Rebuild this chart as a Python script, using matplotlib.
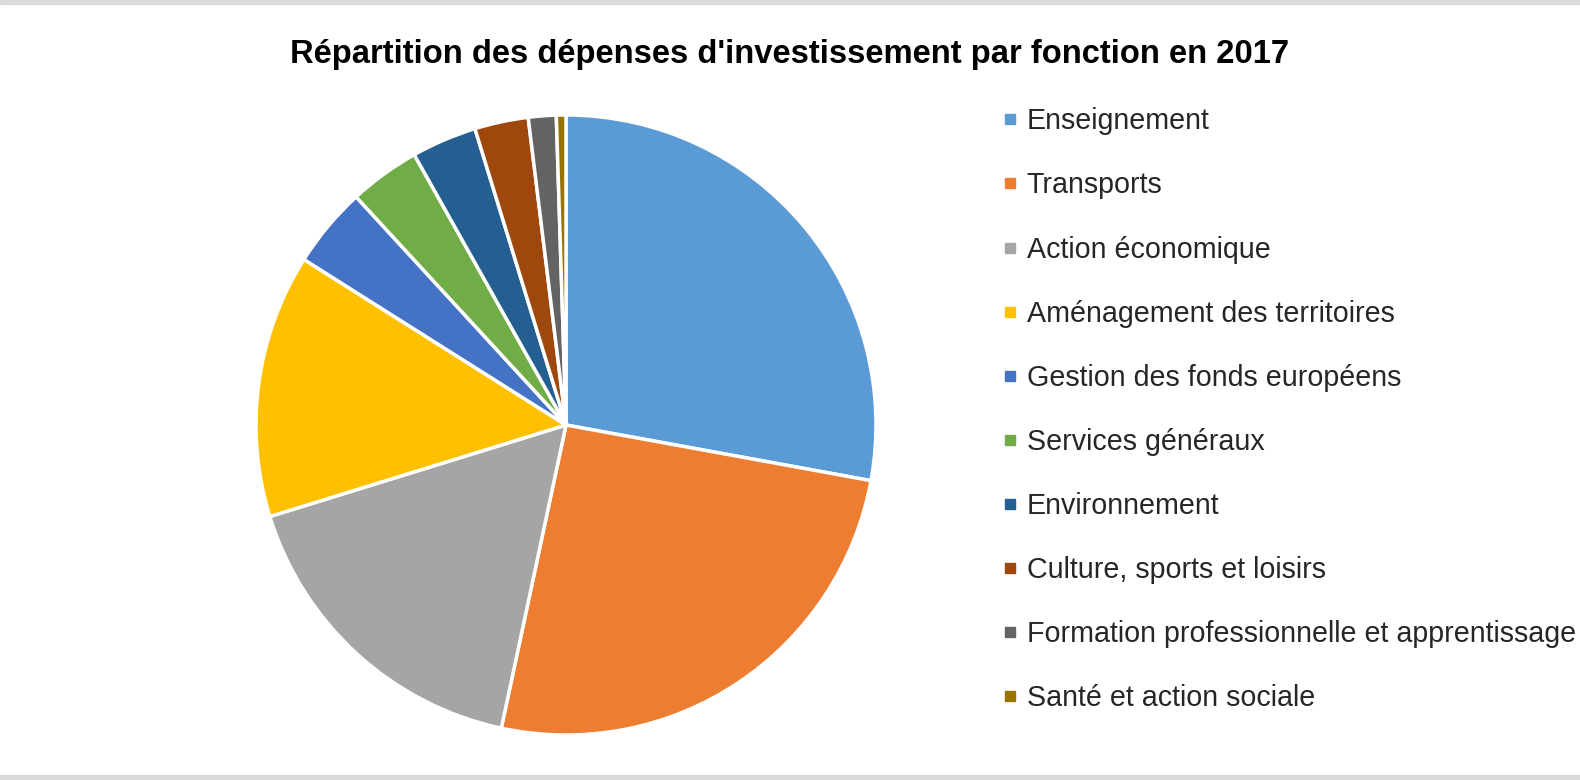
import matplotlib
matplotlib.use("Agg")
import matplotlib.pyplot as plt
from matplotlib.lines import Line2D
from matplotlib.patches import Rectangle

plt.rcParams['font.family'] = ['Liberation Sans', 'DejaVu Sans']

categories = ["Enseignement", "Transports", "Action économique",
              "Aménagement des territoires", "Gestion des fonds européens",
              "Services généraux", "Environnement", "Culture, sports et loisirs",
              "Formation professionnelle et apprentissage", "Santé et action sociale"]
parts = [27.9, 25.5, 16.9, 13.75, 4.2, 3.7, 3.4, 2.8, 1.45, 0.5]
colors = ["#5B9BD5", "#ED7D31", "#A5A5A5", "#FFC000", "#4472C4",
          "#70AD47", "#255E91", "#9E480E", "#636363", "#997300"]

W, H = 1580, 780
fig = plt.figure(figsize=(W/100, H/100), dpi=100)

# grey frame bands top and bottom
fig.patches.append(Rectangle((0, 1-4/H), 1, 4/H, transform=fig.transFigure,
                             color="#d9d9d9", zorder=0))
fig.patches.append(Rectangle((0, 0), 1, 5/H, transform=fig.transFigure,
                             color="#d9d9d9", zorder=0))

cx, cy, r = 566, 425, 310
ax = fig.add_axes([(cx-r)/W, (H-cy-r)/H, 2*r/W, 2*r/H])
ax.pie(parts, colors=colors, startangle=90, counterclock=False,
       wedgeprops=dict(edgecolor="white", linewidth=2.5))
ax.set_xlim(-1.0, 1.0)
ax.set_ylim(-1.0, 1.0)
ax.set_aspect("equal")
ax.axis("off")

fig.text(790/W, 1-54/H, "Répartition des dépenses d'investissement par fonction en 2017",
         ha="center", va="center", fontsize=23.6, fontweight="bold", color="black")

handles = [Line2D([], [], marker="s", linestyle="none", markersize=7,
                  markerfacecolor=c, markeredgecolor=c) for c in colors]
fig.legend(handles, categories, loc="upper left", bbox_to_anchor=(991/W, 1-96/H),
           frameon=False, fontsize=20.6, labelspacing=1.26, handlelength=0.5,
           handletextpad=0.35, borderaxespad=0, labelcolor="#262626")

fig.savefig("out.png", dpi=100, facecolor="white")
